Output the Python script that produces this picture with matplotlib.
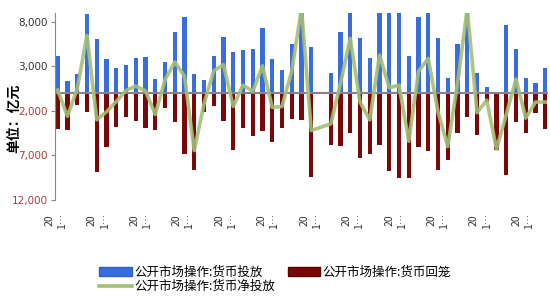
import numpy as np
import matplotlib
matplotlib.use("Agg")
import matplotlib.pyplot as plt
from matplotlib.patches import Patch
from matplotlib.lines import Line2D

plt.rcParams['font.family'] = ['Noto Sans CJK SC', 'DejaVu Sans']

# 公开市场操作, 单位: 亿元 (one entry per period, nan = no data)
inject = [4190, 1350, 2100, 8900, 6040, 3820, 2770, 3150, 3970, 4080,
          1570, 3450, 6820, 8580, 2100, 1460, 4190, 6260, 4640, 4830,
          4950, 7340, 3820, 2590, 5470, 12000, 5140, np.nan, 2280, 6890,
          10700, 6150, 3900, 10100, 9300, 10400, 4160, 8580, 10400, 6220,
          1650, 5470, 12200, 2210, 710, 0, 7640, 4910, 1720, 1160, 2840]
withdraw = [-4000, -4160, -1350, -2100, -8850, -6040, -3790, -2660, -3150, -3900,
            -4160, -1650, -3290, -6780, -8650, -2170, -1460, -3110, -6330, -3970,
            -4830, -4270, -5470, -3900, -2850, -2960, -9400, np.nan, -5770, -5920,
            -4530, -7230, -6890, -5850, -8730, -9520, -9520, -6040, -6490, -8650,
            -7560, -4460, -2660, -4720, -1000, -6400, -9140, -3290, -4460, -2280, -4050]
net = [340, -2600, 500, 6500, -3000, -2100, -950, 300, 800, 250,
       -2400, 1500, 3500, 1900, -6450, -1200, 2500, 3200, -1500, 900,
       200, 3070, -1600, -1500, 2500, 9500, -4200, np.nan, -3450, 1100,
       6150, -1000, -3000, 4270, 600, 900, -5400, 2450, 3900, -2100,
       -6000, 1100, 9500, -2200, -800, -6300, -2400, 1580, -2800, -1000, -1000]

tick_labels = ["20\n1…"] * 12
y_ticks = [8000, 3000, -2000, -7000, -12000]

names = ["公开市场操作:货币投放", "公开市场操作:货币回笼", "公开市场操作:货币净投放"]
blue = '#3a6ddc'
red = '#7a0808'
green = '#a3bf74'

x = np.arange(len(inject))
net_arr = np.array(net, dtype=float)
ok = ~np.isnan(net_arr)

fig = plt.figure(figsize=(5.5, 3.0), dpi=100)
ax = fig.add_axes([55 / 550, 100 / 300, 493 / 550, 187 / 300])

ax.bar(x, inject, width=0.42, color=blue, zorder=2)
ax.bar(x, withdraw, width=0.42, color=red, zorder=2)
ax.axhline(0, color='#8c7c8c', lw=1.5, zorder=3)
ax.plot(x[ok], net_arr[ok], color=green, lw=2.6, alpha=0.9,
        solid_joinstyle='round', zorder=4)

ax.set_xlim(-0.28, len(inject) - 1 + 0.28)
ax.set_ylim(-12000, 9000)

ax.set_yticks(y_ticks)
ax.set_yticklabels([f"{abs(v):,}" for v in y_ticks], family='DejaVu Sans', fontsize=7.5)
for lab, v in zip(ax.get_yticklabels(), y_ticks):
    lab.set_color('#333333' if v > 0 else '#b03a3a')
ax.tick_params(axis='y', length=3, width=0.8, color='#888888', pad=2)

ax.set_xticks(np.linspace(-0.2, 47.7, len(tick_labels)))
ax.set_xticklabels(tick_labels, rotation=90, fontsize=7.5, linespacing=1.35,
                   va='top', ha='center', color='#333333')
ax.tick_params(axis='x', length=0, pad=9)

for s in ['top', 'right', 'bottom']:
    ax.spines[s].set_visible(False)
ax.spines['left'].set_color('#888888')
ax.spines['left'].set_linewidth(0.8)

fig.text(14 / 550, 1 - 118 / 300, "单位：亿元", rotation=90, ha='center', va='center',
         fontsize=10, fontweight='bold', color='black')

handles = [Patch(facecolor=blue, edgecolor='#2f5fc8'),
           Line2D([0], [0], color=green, lw=2.6),
           Patch(facecolor=red, edgecolor='#5a0000')]
labels = [names[0], names[2], names[1]]
fig.legend(handles, labels, ncol=2, loc='center', bbox_to_anchor=(0.5, 1 - 279.5 / 300),
           frameon=False, fontsize=9, handlelength=2.6, handleheight=0.75,
           handletextpad=0.2, columnspacing=1.0, labelspacing=0.1)

fig.savefig("out.png", dpi=100)
